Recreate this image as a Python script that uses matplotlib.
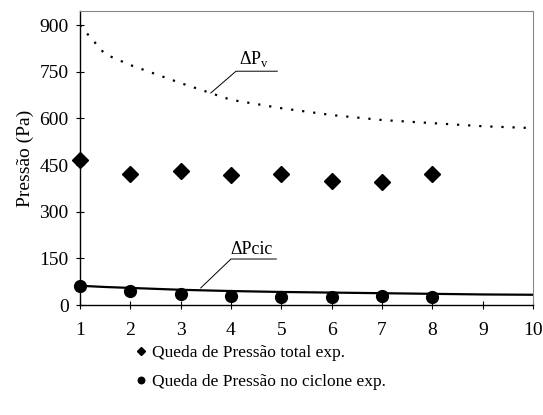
import matplotlib.pyplot as plt
import numpy as np

plt.rcParams['font.family'] = ['Liberation Serif', 'DejaVu Serif']
plt.rcParams['mathtext.fontset'] = 'custom'
plt.rcParams['mathtext.rm'] = 'Liberation Serif'

# data
x_exp = [1, 2, 3, 4, 5, 6, 7, 8]
p_total_exp = [465, 420, 430, 417, 420, 398, 397, 421]
p_cic_exp = [61, 45, 34, 30, 27, 27, 30, 25]

x_model = [1, 1.5, 2, 3, 4, 5, 6, 7, 8, 9, 10]
p_v_model = [900, 807, 772, 714, 660, 633, 611, 595, 585, 575, 569]
p_cic_model = [62, 58, 55, 49, 45, 42, 40, 38, 36, 34, 33]

xticks = list(range(1, 11))
yticks = [0, 150, 300, 450, 600, 750, 900]

fig = plt.figure(figsize=(5.43, 4.15), dpi=100)
ax = fig.add_axes([0.147, 0.265, 0.835, 0.708])

ax.plot(x_model, p_v_model, color='black', lw=1.6, linestyle=(0, (1, 4)))
ax.plot(x_model, p_cic_model, color='black', lw=1.6)
ax.plot(x_exp, p_total_exp, 'D', color='black', ms=8, clip_on=False, label='Queda de Pressão total exp.')
ax.plot(x_exp, p_cic_exp, 'o', color='black', ms=8.5, clip_on=False, label='Queda de Pressão no ciclone exp.')

# leader lines for the labels
ax.plot([3.6, 4.1, 4.92], [682, 752, 752], color='black', lw=0.7)
ax.text(4.15, 758, 'ΔP$_\\mathrm{v}$', fontsize=13, ha='left', va='bottom')
ax.plot([3.4, 4.0, 4.9], [55, 148, 148], color='black', lw=0.7)
ax.text(3.98, 152, 'ΔPcic', fontsize=13, ha='left', va='bottom')

ax.set_xlim(1, 10)
ax.set_ylim(0, 945)
ax.set_xticks(xticks)
ax.set_yticks(yticks)
ax.tick_params(axis='both', direction='inout', length=6, width=0.8, labelsize=14)
ax.tick_params(axis='x', pad=9)
ax.tick_params(axis='y', pad=5)
ax.set_ylabel('Pressão (Pa)', fontsize=14, labelpad=4)

for s in ['left', 'bottom']:
    ax.spines[s].set_linewidth(1.0)
for s in ['top', 'right']:
    ax.spines[s].set_color('#888888')
    ax.spines[s].set_linewidth(0.8)
    ax.spines[s].set_linestyle((0, (3, 1)))

handles, labels = ax.get_legend_handles_labels()
leg = fig.legend(handles, labels, loc='upper left', bbox_to_anchor=(0.235, 0.19),
                 frameon=False, fontsize=12.5, handlelength=0.6, handletextpad=0.3,
                 labelspacing=0.75, borderpad=0, markerscale=0.55)

fig.savefig('out.png', dpi=100)
